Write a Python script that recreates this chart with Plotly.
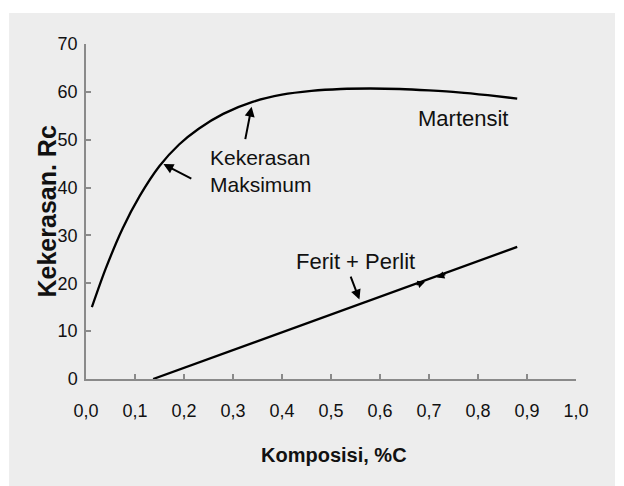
import plotly.graph_objects as go

# Data
mart_x = [0.012, 0.04, 0.075, 0.11, 0.15, 0.19, 0.23, 0.28, 0.34, 0.40, 0.46, 0.52, 0.58, 0.64, 0.70, 0.76, 0.82, 0.88]
mart_y = [15.0, 23.0, 31.5, 38.3, 44.5, 49.0, 52.3, 55.4, 57.9, 59.4, 60.2, 60.6, 60.7, 60.6, 60.3, 59.9, 59.3, 58.6]
ferit_x = [0.137, 0.88]
ferit_y = [0.0, 27.6]

x_tickvals = [0.0, 0.1, 0.2, 0.3, 0.4, 0.5, 0.6, 0.7, 0.8, 0.9, 1.0]
x_ticktext = ["0,0", "0,1", "0,2", "0,3", "0,4", "0,5", "0,6", "0,7", "0,8", "0,9", "1,0"]
y_tickvals = [0, 10, 20, 30, 40, 50, 60, 70]
y_ticktext = ["0", "10", "20", "30", "40", "50", "60", "70"]

x_title = "Komposisi, %C"
y_title = "Kekerasan. Rc"
lbl_mart = "Martensit"
lbl_kek = "Kekerasan<br>Maksimum"
lbl_ferit = "Ferit + Perlit"

FONT = "Liberation Sans, Arial, sans-serif"

fig = go.Figure()
fig.add_trace(go.Scatter(x=mart_x, y=mart_y, mode="lines",
                         line=dict(color="black", width=2.3, shape="spline", smoothing=0.8),
                         hoverinfo="skip", showlegend=False))
fig.add_trace(go.Scatter(x=ferit_x, y=ferit_y, mode="lines",
                         line=dict(color="black", width=2.3),
                         hoverinfo="skip", showlegend=False))

# background panel
fig.add_shape(type="rect", xref="paper", yref="paper",
              x0=-0.157, x1=1.0796, y0=-0.33, y1=1.0925,
              fillcolor="#ededed", line=dict(width=0), layer="below")

ann = []
ann.append(dict(x=0.769, y=54.5, text=lbl_mart, showarrow=False, xanchor="center", yanchor="middle",
                font=dict(size=22, color="#111", family=FONT)))
ann.append(dict(x=0.249, y=43.4, text=lbl_kek, showarrow=False, xanchor="left", yanchor="middle",
                align="left", font=dict(size=21, color="#111", family=FONT)))
ann.append(dict(x=0.549, y=24.5, text=lbl_ferit, showarrow=False, xanchor="center", yanchor="middle",
                font=dict(size=22, color="#111", family=FONT)))
arrow_style = dict(showarrow=True, arrowhead=2, arrowsize=1.0, arrowwidth=2, arrowcolor="black", text="",
                   axref="x", ayref="y")
ann.append(dict(x=0.338, y=56.9, ax=0.3245, ay=49.8, **arrow_style))
ann.append(dict(x=0.158, y=44.9, ax=0.218, ay=41.7, **arrow_style))
ann.append(dict(x=0.558, y=16.6, ax=0.539, ay=21.7, **arrow_style))
small = dict(showarrow=True, arrowhead=2, arrowsize=1.0, arrowwidth=1.5, arrowcolor="black", text="")
ann.append(dict(x=0.692, y=20.3, ax=-10, ay=3.6, **small))
ann.append(dict(x=0.716, y=21.2, ax=10, ay=-3.6, **small))
ann.append(dict(xref="paper", yref="paper", x=-0.0796, y=0.5, text="<b>" + y_title + "</b>", textangle=-90,
                showarrow=False, xanchor="center", yanchor="middle",
                font=dict(size=25, color="#111", family=FONT)))
ann.append(dict(xref="paper", yref="paper", x=0.506, y=-0.227, text="<b>" + x_title + "</b>",
                showarrow=False, xanchor="center", yanchor="middle",
                font=dict(size=20, color="#111", family=FONT)))

# page body has an 8px margin: figure is 616x478 so it fills the 624x486 window
fig.update_layout(
    width=616, height=478,
    margin=dict(l=78, r=48, t=36, b=107),
    paper_bgcolor="white", plot_bgcolor="rgba(0,0,0,0)",
    annotations=ann, showlegend=False,
    font=dict(family=FONT, color="#111"),
)
fig.update_xaxes(range=[0, 1], tickvals=x_tickvals, ticktext=x_ticktext,
                 showline=True, linecolor="#8a8a8a", linewidth=1.5,
                 ticks="inside", ticklen=5, tickcolor="#8a8a8a", tickwidth=1.5,
                 showgrid=False, zeroline=False, ticklabelstandoff=15,
                 tickfont=dict(size=18, color="#111", family=FONT))
fig.update_yaxes(range=[0, 70], tickvals=y_tickvals, ticktext=y_ticktext,
                 showline=True, linecolor="#8a8a8a", linewidth=1.5,
                 ticks="inside", ticklen=5, tickcolor="#8a8a8a", tickwidth=1.5,
                 showgrid=False, zeroline=False, ticklabelstandoff=3,
                 tickfont=dict(size=18, color="#111", family=FONT))

fig.write_html("out.html")
